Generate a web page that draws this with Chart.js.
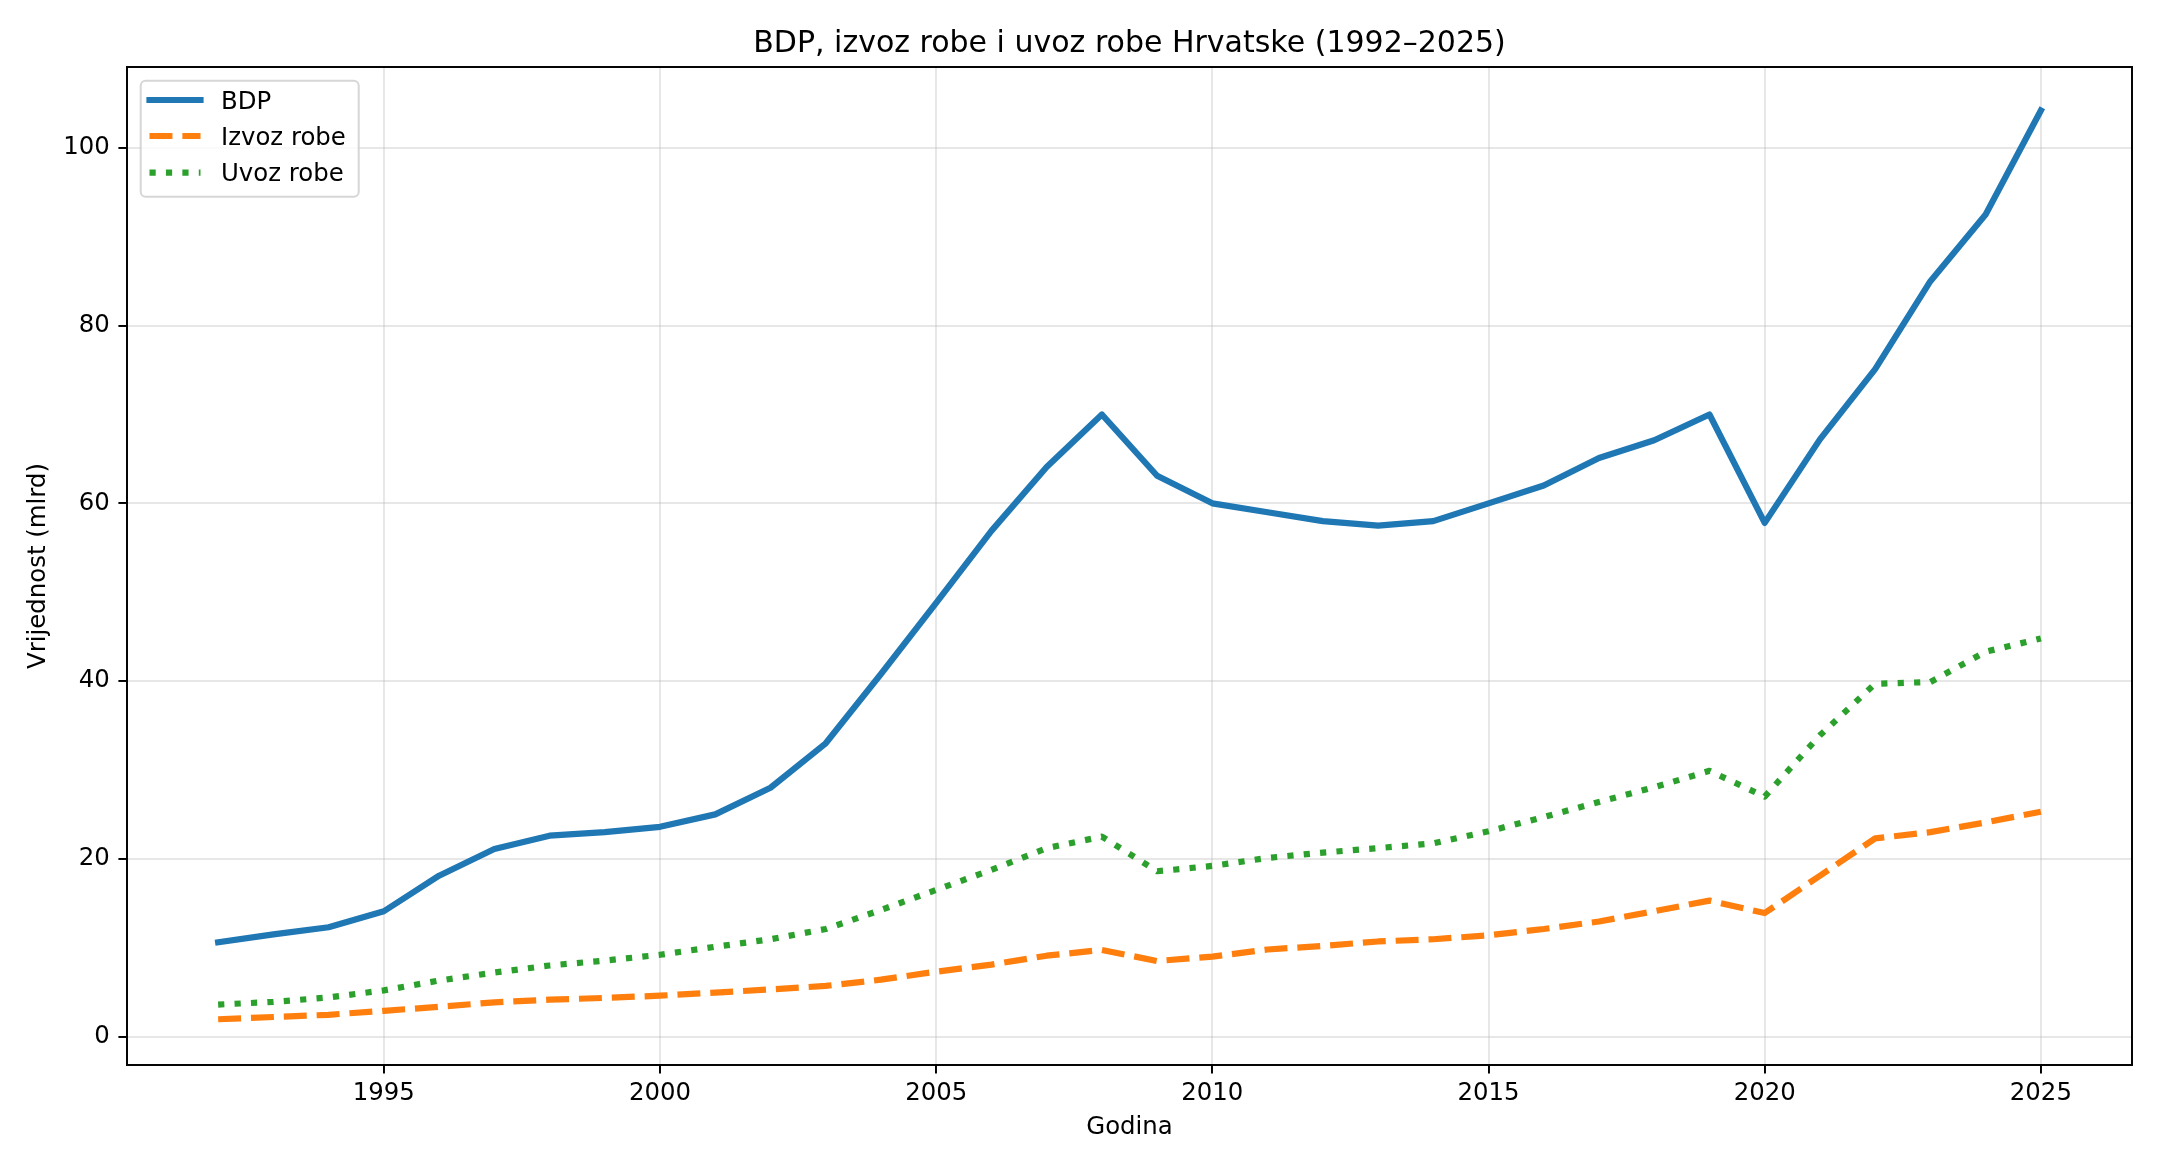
<!DOCTYPE html>
<html>
<head>
<meta charset="utf-8">
<script src="https://cdn.jsdelivr.net/npm/chart.js@4/dist/chart.umd.min.js"></script>
<style>
  html, body { margin: 0; padding: 0; background: #ffffff; }
  canvas { display: block; }
</style>
</head>
<body>
<canvas id="c" width="2160" height="1170"></canvas>
<script>
// ---- data ----
const years = [1992,1993,1994,1995,1996,1997,1998,1999,2000,2001,2002,2003,2004,2005,2006,2007,2008,
               2009,2010,2011,2012,2013,2014,2015,2016,2017,2018,2019,2020,2021,2022,2023,2024,2025];
const bdp = [10.6,11.5,12.3,14.1,18.1,21.1,22.6,23.0,23.6,25.0,28.0,33.0,40.8,48.8,56.9,64.1,70.0,
             63.1,60.0,59.0,58.0,57.5,58.0,60.0,62.0,65.1,67.1,70.0,57.8,67.2,75.1,85.0,92.5,104.2];
const izvoz = [1.95,2.2,2.45,2.9,3.35,3.85,4.15,4.35,4.6,4.95,5.3,5.7,6.4,7.3,8.1,9.1,9.75,
               8.5,9.0,9.8,10.2,10.7,10.95,11.4,12.1,12.95,14.1,15.3,13.9,18.1,22.3,23.0,24.1,25.3];
const uvoz = [3.6,3.9,4.4,5.2,6.3,7.2,8.0,8.55,9.2,10.1,10.95,12.1,14.25,16.5,18.75,21.2,22.5,
              18.6,19.2,20.1,20.7,21.2,21.75,23.1,24.7,26.4,28.05,29.9,27.0,33.9,39.7,39.9,43.3,44.8];
const seriesLabels = ['BDP', 'Izvoz robe', 'Uvoz robe'];
const xTickValues = [1995, 2000, 2005, 2010, 2015, 2020, 2025];
const yTickValues = [0, 20, 40, 60, 80, 100];
const titleText = 'BDP, izvoz robe i uvoz robe Hrvatske (1992\u20132025)';
const xTitle = 'Godina';
const yTitle = 'Vrijednost (mlrd)';

// ---- styling ----
const FONT = "'DejaVu Sans', 'Liberation Sans', sans-serif";
const LW = 6.2;
const SPINE = 1.96;
Chart.defaults.font.family = FONT;
Chart.defaults.color = '#000000';

const toPoints = arr => years.map((yr, i) => ({ x: yr, y: arr[i] }));

// centre the title over the plotting area (as matplotlib does)
const titleCenterPlugin = {
  id: 'titleCenter',
  afterLayout(chart) {
    const t = chart.titleBlock;
    if (t) {
      t.left = chart.chartArea.left;
      t.right = chart.chartArea.right;
    }
  }
};

const framePlugin = {
  id: 'frame',
  afterDatasetsDraw(chart) {
    const { ctx, chartArea: a } = chart;
    ctx.save();
    ctx.strokeStyle = '#000000';
    ctx.lineWidth = SPINE;
    ctx.setLineDash([]);
    ctx.lineJoin = 'miter';
    ctx.strokeRect(a.left, a.top, a.right - a.left, a.bottom - a.top);
    ctx.restore();
  }
};

const legendPlugin = {
  id: 'innerLegend',
  afterDraw(chart) {
    const { ctx, chartArea: a } = chart;
    const bx = a.left + 13.7, by = a.top + 13.7, bw = 218, bh = 116, r = 5;
    ctx.save();
    ctx.beginPath();
    ctx.moveTo(bx + r, by);
    ctx.lineTo(bx + bw - r, by);
    ctx.arcTo(bx + bw, by, bx + bw, by + r, r);
    ctx.lineTo(bx + bw, by + bh - r);
    ctx.arcTo(bx + bw, by + bh, bx + bw - r, by + bh, r);
    ctx.lineTo(bx + r, by + bh);
    ctx.arcTo(bx, by + bh, bx, by + bh - r, r);
    ctx.lineTo(bx, by + r);
    ctx.arcTo(bx, by, bx + r, by, r);
    ctx.closePath();
    ctx.fillStyle = 'rgba(255,255,255,0.8)';
    ctx.fill();
    ctx.strokeStyle = 'rgba(204,204,204,0.8)';
    ctx.lineWidth = 2;
    ctx.stroke();

    const rowY = [a.top + 33, a.top + 69, a.top + 105.7];
    const hx0 = a.left + 22.5, hx1 = a.left + 73.5, tx = a.left + 94;
    chart.data.datasets.forEach((ds, i) => {
      const y = rowY[i];
      ctx.beginPath();
      ctx.strokeStyle = ds.borderColor;
      ctx.lineWidth = ds.borderWidth;
      ctx.setLineDash(ds.borderDash || []);
      ctx.lineDashOffset = 0;
      ctx.lineCap = ds.borderCapStyle || 'butt';
      ctx.moveTo(hx0, y);
      ctx.lineTo(hx1, y);
      ctx.stroke();
      ctx.setLineDash([]);
      ctx.fillStyle = '#000000';
      ctx.font = '24.4px ' + FONT;
      ctx.textAlign = 'left';
      ctx.textBaseline = 'alphabetic';
      ctx.fillText(ds.label, tx, y + 8.6);
    });
    ctx.restore();
  }
};

new Chart(document.getElementById('c'), {
  type: 'line',
  data: {
    datasets: [
      { label: seriesLabels[0], data: toPoints(bdp), borderColor: '#1f77b4', backgroundColor: '#1f77b4',
        borderWidth: LW, borderCapStyle: 'square', borderJoinStyle: 'round', pointRadius: 0, tension: 0, fill: false },
      { label: seriesLabels[1], data: toPoints(izvoz), borderColor: '#ff7f0e', backgroundColor: '#ff7f0e',
        borderWidth: LW, borderDash: [3.7 * LW, 1.6 * LW], borderCapStyle: 'butt', borderJoinStyle: 'round',
        pointRadius: 0, tension: 0, fill: false },
      { label: seriesLabels[2], data: toPoints(uvoz), borderColor: '#2ca02c', backgroundColor: '#2ca02c',
        borderWidth: LW, borderDash: [1.0 * LW, 1.65 * LW], borderCapStyle: 'butt', borderJoinStyle: 'round',
        pointRadius: 0, tension: 0, fill: false }
    ]
  },
  options: {
    responsive: false,
    maintainAspectRatio: false,
    devicePixelRatio: 1,
    animation: false,
    events: [],
    layout: { padding: { left: 0, right: 28, top: 0, bottom: 0 } },
    plugins: {
      legend: { display: false },
      tooltip: { enabled: false },
      title: {
        display: true,
        text: titleText,
        color: '#000000',
        font: { family: FONT, size: 30, weight: 'normal' },
        padding: { top: 26, bottom: 5 }
      }
    },
    scales: {
      x: {
        type: 'linear',
        position: 'bottom',
        min: 1990.35,
        max: 2026.65,
        afterBuildTicks: s => { s.ticks = xTickValues.map(v => ({ value: v })); },
        afterFit: s => { s.height = 105; },
        ticks: { callback: v => String(v), font: { family: FONT, size: 24.4 }, color: '#000000', padding: 5, maxRotation: 0, autoSkip: false },
        grid: { color: 'rgba(176,176,176,0.3)', lineWidth: 1.96, drawTicks: true, tickLength: 8.6, tickColor: '#000000', tickWidth: 1.96 },
        border: { display: false },
        title: { display: true, text: xTitle, color: '#000000', font: { family: FONT, size: 24.4 }, padding: { top: 0, bottom: 28 } }
      },
      y: {
        type: 'linear',
        position: 'left',
        min: -3.2,
        max: 109.1,
        afterBuildTicks: s => { s.ticks = yTickValues.map(v => ({ value: v })); },
        afterFit: s => { s.width = 127; },
        ticks: { callback: v => String(v), font: { family: FONT, size: 24.4 }, color: '#000000', padding: 8.6, autoSkip: false },
        grid: { color: 'rgba(176,176,176,0.3)', lineWidth: 1.96, drawTicks: true, tickLength: 8.6, tickColor: '#000000', tickWidth: 1.96 },
        border: { display: false },
        title: { display: true, text: yTitle, color: '#000000', font: { family: FONT, size: 24.4 }, padding: { top: 24, bottom: 0 } }
      }
    }
  },
  plugins: [titleCenterPlugin, framePlugin, legendPlugin]
});
</script>
</body>
</html>
